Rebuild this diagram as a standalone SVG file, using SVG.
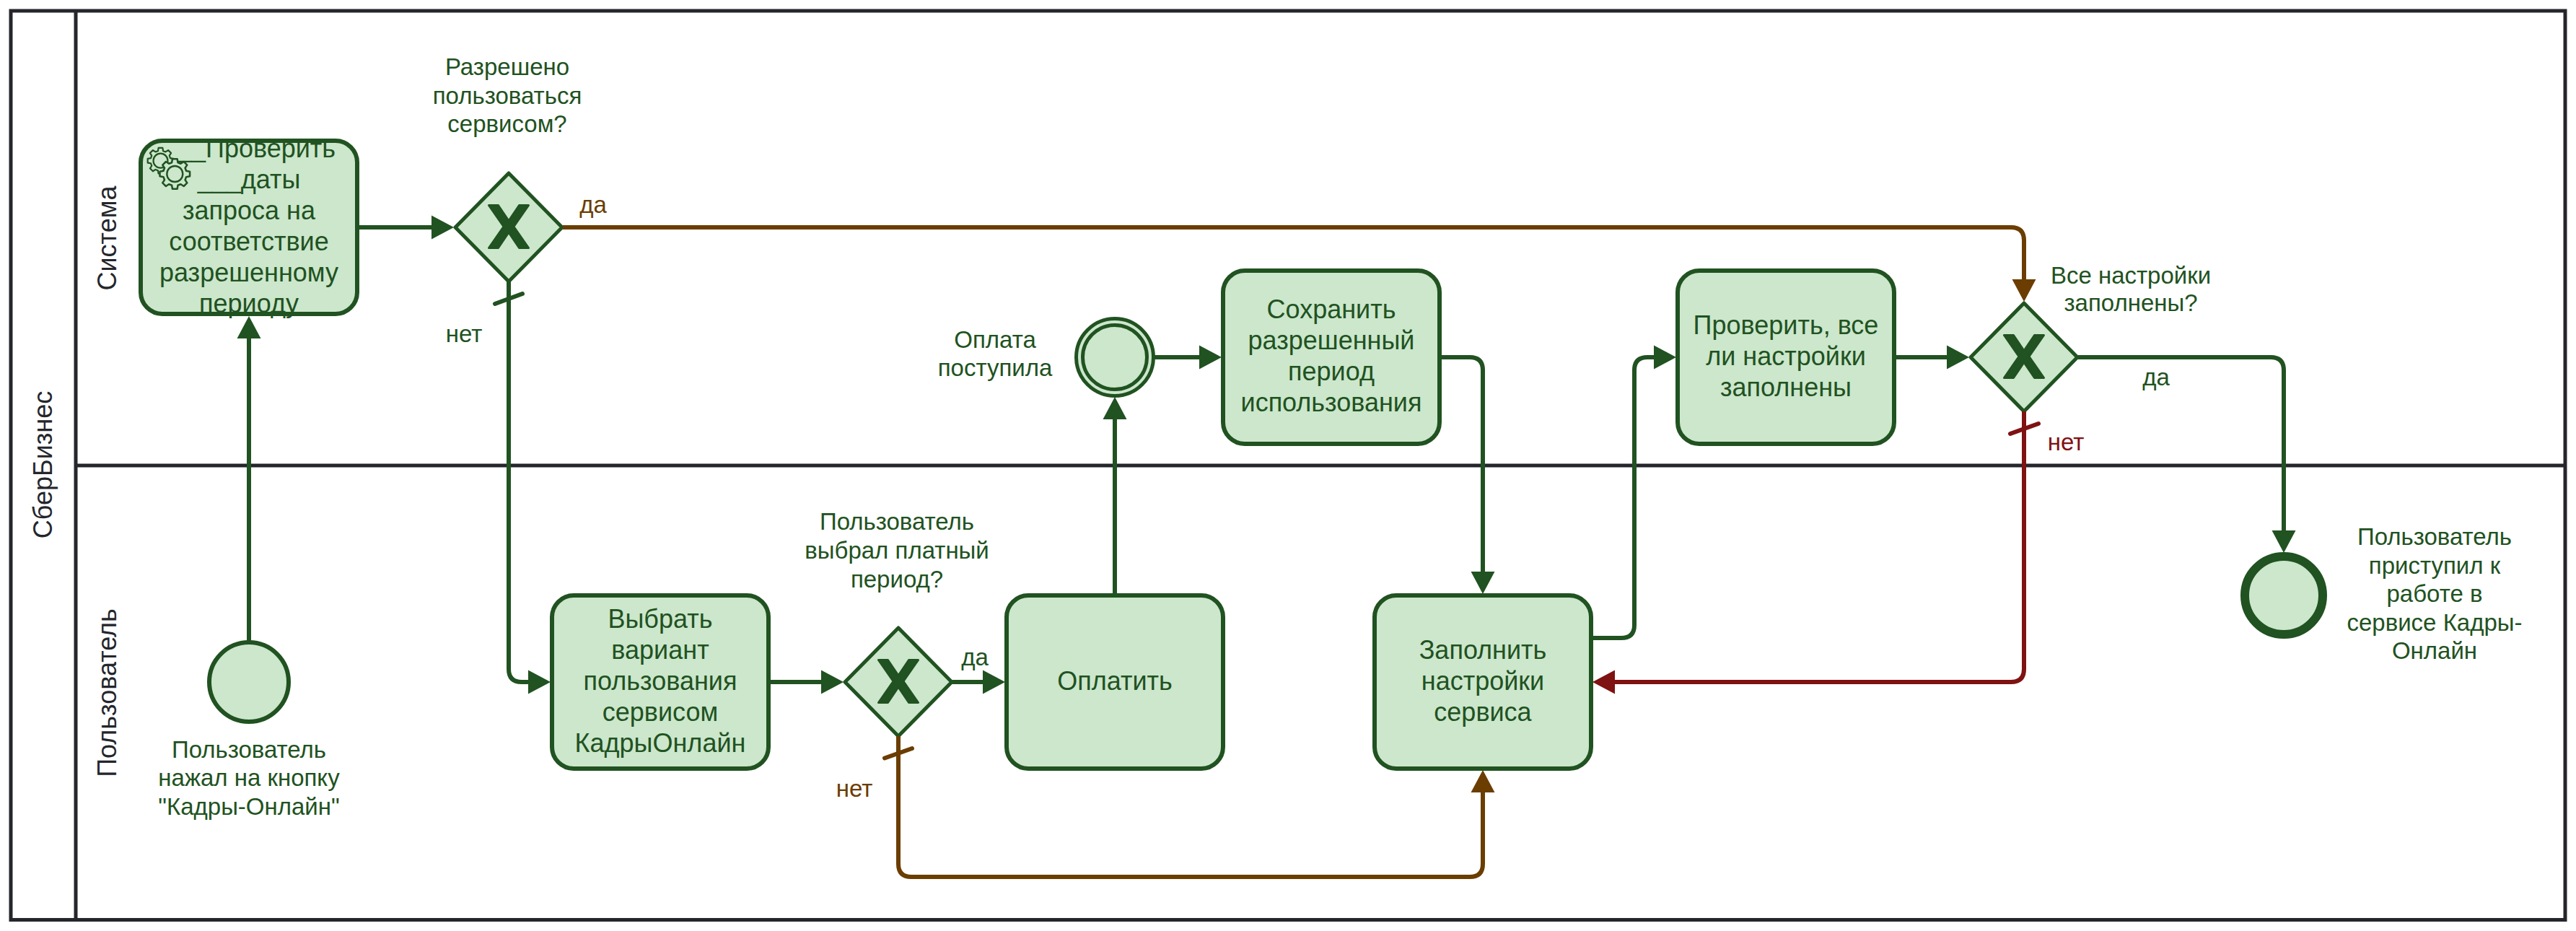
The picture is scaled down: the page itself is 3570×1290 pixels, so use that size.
<svg xmlns="http://www.w3.org/2000/svg" xmlns:xlink="http://www.w3.org/1999/xlink" width="3570" height="1290" viewBox="0 0 3570 1290">
<style>
text{font-family:"Liberation Sans",Arial,sans-serif;fill:#215221;text-anchor:middle}
.t{font-size:36px}
.l{font-size:33px}
.s{font-size:36px;fill:#24262c}
.box{fill:#cce7cc;stroke:#215221;stroke-width:6}
.gw{fill:#cce7cc;stroke:#215221;stroke-width:5;stroke-linejoin:round}
.ev{fill:#cce7cc;stroke:#215221;stroke-width:6}
.ev2{fill:#cce7cc;stroke:#215221;stroke-width:5}
.lane{fill:none;stroke:#24262c;stroke-width:5}
.f{fill:none;stroke:#215221;stroke-width:6}
.br{stroke:#6b3d00}
.rd{stroke:#7f1212}
.tick{stroke-linecap:round}
.gear{fill:#cce7cc;stroke:#215221;stroke-width:12;stroke-linejoin:round}
</style>
<defs>
<marker id="ag" markerUnits="userSpaceOnUse" markerWidth="34" markerHeight="34" viewBox="0 0 34 34" refX="21" refY="17" orient="auto"><path d="M0 .5L31 17L0 33.5Z" fill="#215221"/></marker>
<marker id="ab" markerUnits="userSpaceOnUse" markerWidth="34" markerHeight="34" viewBox="0 0 34 34" refX="21" refY="17" orient="auto"><path d="M0 .5L31 17L0 33.5Z" fill="#6b3d00"/></marker>
<marker id="ar" markerUnits="userSpaceOnUse" markerWidth="34" markerHeight="34" viewBox="0 0 34 34" refX="21" refY="17" orient="auto"><path d="M0 .5L31 17L0 33.5Z" fill="#7f1212"/></marker>
<polygon id="x" points="-27.5,-29.5 -14.5,-29.5 0,-8 14.5,-29.5 27.5,-29.5 7,0 27.5,29.5 14.5,29.5 0,8 -14.5,29.5 -27.5,29.5 -7,0" fill="#215221" stroke="#215221" stroke-width="3" stroke-linejoin="round"/>
<polygon id="g" points="75,-20 99,-16 99,16 75,20 68,39 81,59 59,81 39,68 20,75 16,99 -16,99 -20,75 -39,68 -59,81 -81,59 -68,39 -75,20 -99,16 -99,-16 -75,-20 -68,-39 -81,-59 -59,-81 -39,-68 -20,-75 -16,-99 16,-99 20,-75 39,-68 59,-81 81,-59 68,-39"/>
</defs>
<rect width="3570" height="1290" fill="#fff"/>
<g id="pool">
<rect class="lane" x="15" y="15" width="3540" height="1259.5"/>
<path class="lane" d="M105 15V1274.5M105 645H3555"/>
<text class="s" transform="translate(72 644) rotate(-90)">СберБизнес</text>
<text class="s" transform="translate(161 330) rotate(-90)">Система</text>
<text class="s" transform="translate(161 960) rotate(-90)">Пользователь</text>
</g>
<g id="task-check-dates">
<rect x="195" y="195" width="300" height="240" rx="30" fill="#cce7cc"/>
<text class="t" x="345" y="218">___Проверить</text>
<text class="t" x="345" y="261">___даты</text>
<text class="t" x="345" y="304">запроса на</text>
<text class="t" x="345" y="347">соответствие</text>
<text class="t" x="345" y="390">разрешенному</text>
<text class="t" x="345" y="433">периоду</text>
<rect x="195" y="195" width="300" height="240" rx="30" fill="none" stroke="#215221" stroke-width="6"/>
<use xlink:href="#g" href="#g" class="gear" transform="translate(222.5 222.7) scale(.18)"/>
<circle cx="222.5" cy="222.7" r="10" fill="none" stroke="#215221" stroke-width="2.2"/>
<use xlink:href="#g" href="#g" class="gear" transform="translate(242.3 241) scale(.21)"/>
<circle cx="242.3" cy="241" r="11" fill="none" stroke="#215221" stroke-width="2.4"/>
</g>
<g id="gateway-allowed">
<path class="gw" d="M705 240L779 315L705 390L631 315Z"/>
<use xlink:href="#x" href="#x" transform="translate(705 314)"/>
<text class="l" x="703" y="104">Разрешено</text>
<text class="l" x="703" y="144">пользоваться</text>
<text class="l" x="703" y="183">сервисом?</text>
</g>
<g id="start">
<circle class="ev" cx="345" cy="945" r="55"/>
<text class="l" x="345" y="1050">Пользователь</text>
<text class="l" x="345" y="1089">нажал на кнопку</text>
<text class="l" x="345" y="1129">"Кадры-Онлайн"</text>
</g>
<g id="task-choose">
<rect class="box" x="765" y="825" width="300" height="240" rx="30"/>
<text class="t" x="915" y="870">Выбрать</text>
<text class="t" x="915" y="913">вариант</text>
<text class="t" x="915" y="956">пользования</text>
<text class="t" x="915" y="999">сервисом</text>
<text class="t" x="915" y="1042">КадрыОнлайн</text>
</g>
<g id="gateway-paid">
<path class="gw" d="M1245 870L1319 945L1245 1020L1171 945Z"/>
<use xlink:href="#x" href="#x" transform="translate(1245 944)"/>
<text class="l" x="1243" y="734">Пользователь</text>
<text class="l" x="1243" y="774">выбрал платный</text>
<text class="l" x="1243" y="814">период?</text>
</g>
<g id="task-pay">
<rect class="box" x="1395" y="825" width="300" height="240" rx="30"/>
<text class="t" x="1545" y="956">Оплатить</text>
</g>
<g id="event-paid">
<circle class="ev2" cx="1545" cy="495" r="53.5"/>
<circle class="ev2" cx="1545" cy="495" r="44.5"/>
<text class="l" x="1379" y="482">Оплата</text>
<text class="l" x="1379" y="521">поступила</text>
</g>
<g id="task-save">
<rect class="box" x="1695" y="375" width="300" height="240" rx="30"/>
<text class="t" x="1845" y="441">Сохранить</text>
<text class="t" x="1845" y="484">разрешенный</text>
<text class="t" x="1845" y="527">период</text>
<text class="t" x="1845" y="570">использования</text>
</g>
<g id="task-fill">
<rect class="box" x="1905" y="825" width="300" height="240" rx="30"/>
<text class="t" x="2055" y="913">Заполнить</text>
<text class="t" x="2055" y="956">настройки</text>
<text class="t" x="2055" y="999">сервиса</text>
</g>
<g id="task-verify">
<rect class="box" x="2325" y="375" width="300" height="240" rx="30"/>
<text class="t" x="2475" y="463">Проверить, все</text>
<text class="t" x="2475" y="506">ли настройки</text>
<text class="t" x="2475" y="549">заполнены</text>
</g>
<g id="gateway-filled">
<path class="gw" d="M2805 420L2879 495L2805 570L2731 495Z"/>
<use xlink:href="#x" href="#x" transform="translate(2805 494)"/>
<text class="l" x="2953" y="393">Все настройки</text>
<text class="l" x="2953" y="431">заполнены?</text>
</g>
<g id="end">
<circle cx="3165" cy="825" r="54" fill="#cce7cc" stroke="#215221" stroke-width="12"/>
<text class="l" x="3374" y="755">Пользователь</text>
<text class="l" x="3374" y="795">приступил к</text>
<text class="l" x="3374" y="834">работе в</text>
<text class="l" x="3374" y="874">сервисе Кадры-</text>
<text class="l" x="3374" y="913">Онлайн</text>
</g>
<g id="connectors">
<path class="f" marker-end="url(#ag)" d="M345 890V448"/>
<path class="f" marker-end="url(#ag)" d="M495 315H619"/>
<path class="f br" marker-end="url(#ab)" d="M780 315H2787Q2805 315 2805 333V408"/>
<path class="f" marker-end="url(#ag)" d="M705 390V927Q705 945 723 945H753"/>
<path class="f tick" d="M686 421L724 407"/>
<path class="f" marker-end="url(#ag)" d="M1065 945H1159"/>
<path class="f" marker-end="url(#ag)" d="M1320 945H1383"/>
<path class="f br" marker-end="url(#ab)" d="M1245 1020V1197Q1245 1215 1263 1215H2037Q2055 1215 2055 1197V1077"/>
<path class="f br tick" d="M1226 1050.5L1264 1037"/>
<path class="f" marker-end="url(#ag)" d="M1545 825V560"/>
<path class="f" marker-end="url(#ag)" d="M1600 495H1683"/>
<path class="f" marker-end="url(#ag)" d="M1995 495H2037Q2055 495 2055 513V813"/>
<path class="f" marker-end="url(#ag)" d="M2205 884H2247Q2265 884 2265 866V513Q2265 495 2283 495H2313"/>
<path class="f" marker-end="url(#ag)" d="M2625 495H2719"/>
<path class="f rd" marker-end="url(#ar)" d="M2805 570V927Q2805 945 2787 945H2217"/>
<path class="f rd tick" d="M2786 601L2825 587"/>
<path class="f" marker-end="url(#ag)" d="M2880 495H3147Q3165 495 3165 513V756"/>
<text class="l" style="fill:#6b3d00" x="822" y="295">да</text>
<text class="l" x="643" y="474">нет</text>
<text class="l" x="1351" y="922">да</text>
<text class="l" style="fill:#6b3d00" x="1184" y="1104">нет</text>
<text class="l" x="2988" y="534">да</text>
<text class="l" style="fill:#7f1212" x="2863" y="624">нет</text>
</g>
</svg>
